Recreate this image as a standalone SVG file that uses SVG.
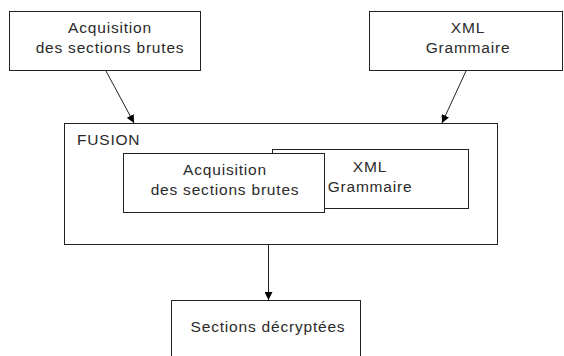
<svg xmlns="http://www.w3.org/2000/svg" width="564" height="356" viewBox="0 0 564 356">
<defs>
<style>
.box{fill:#fff;stroke:#222;stroke-width:1}
text{font-family:"Liberation Sans",Arial,sans-serif;font-size:15.5px;fill:#2a2a2a;letter-spacing:0.8px}
.c{text-anchor:middle}
.conn{stroke:#222;stroke-width:1;fill:none;marker-end:url(#ah)}
</style>
<marker id="ah" viewBox="0 0 10 10" refX="10" refY="5" markerWidth="8" markerHeight="8" markerUnits="userSpaceOnUse" orient="auto">
<path d="M0,0 L10,5 L0,10 z" fill="#000"/>
</marker>
</defs>
<rect width="564" height="356" fill="#fff"/>
<g id="acq-top">
<rect class="box" x="9.5" y="11.5" width="191" height="59"/>
<text class="c" x="110" y="33">Acquisition</text>
<text class="c" x="110" y="53">des sections brutes</text>
</g>
<g id="xml-top">
<rect class="box" x="369.5" y="11.5" width="193" height="59"/>
<text class="c" x="468" y="33">XML</text>
<text class="c" x="468" y="53">Grammaire</text>
</g>
<g id="fusion">
<rect class="box" x="64.5" y="123.5" width="433" height="121"/>
<text x="77" y="145">FUSION</text>
</g>
<g id="xml-inner">
<rect class="box" x="272.5" y="149.5" width="196" height="59"/>
<text class="c" x="370" y="172">XML</text>
<text class="c" x="370" y="192">Grammaire</text>
</g>
<g id="acq-inner">
<rect class="box" x="123.5" y="153.5" width="201" height="59"/>
<text class="c" x="225" y="175">Acquisition</text>
<text class="c" x="225" y="195">des sections brutes</text>
</g>
<g id="sections">
<rect class="box" x="171.5" y="300.5" width="189" height="60"/>
<text class="c" x="268" y="332">Sections décryptées</text>
</g>
<g id="connectors">
<line class="conn" x1="106" y1="71" x2="134" y2="123"/>
<line class="conn" x1="466" y1="71" x2="442" y2="123"/>
<line class="conn" x1="268.5" y1="245" x2="268.5" y2="300"/>
</g>
</svg>
